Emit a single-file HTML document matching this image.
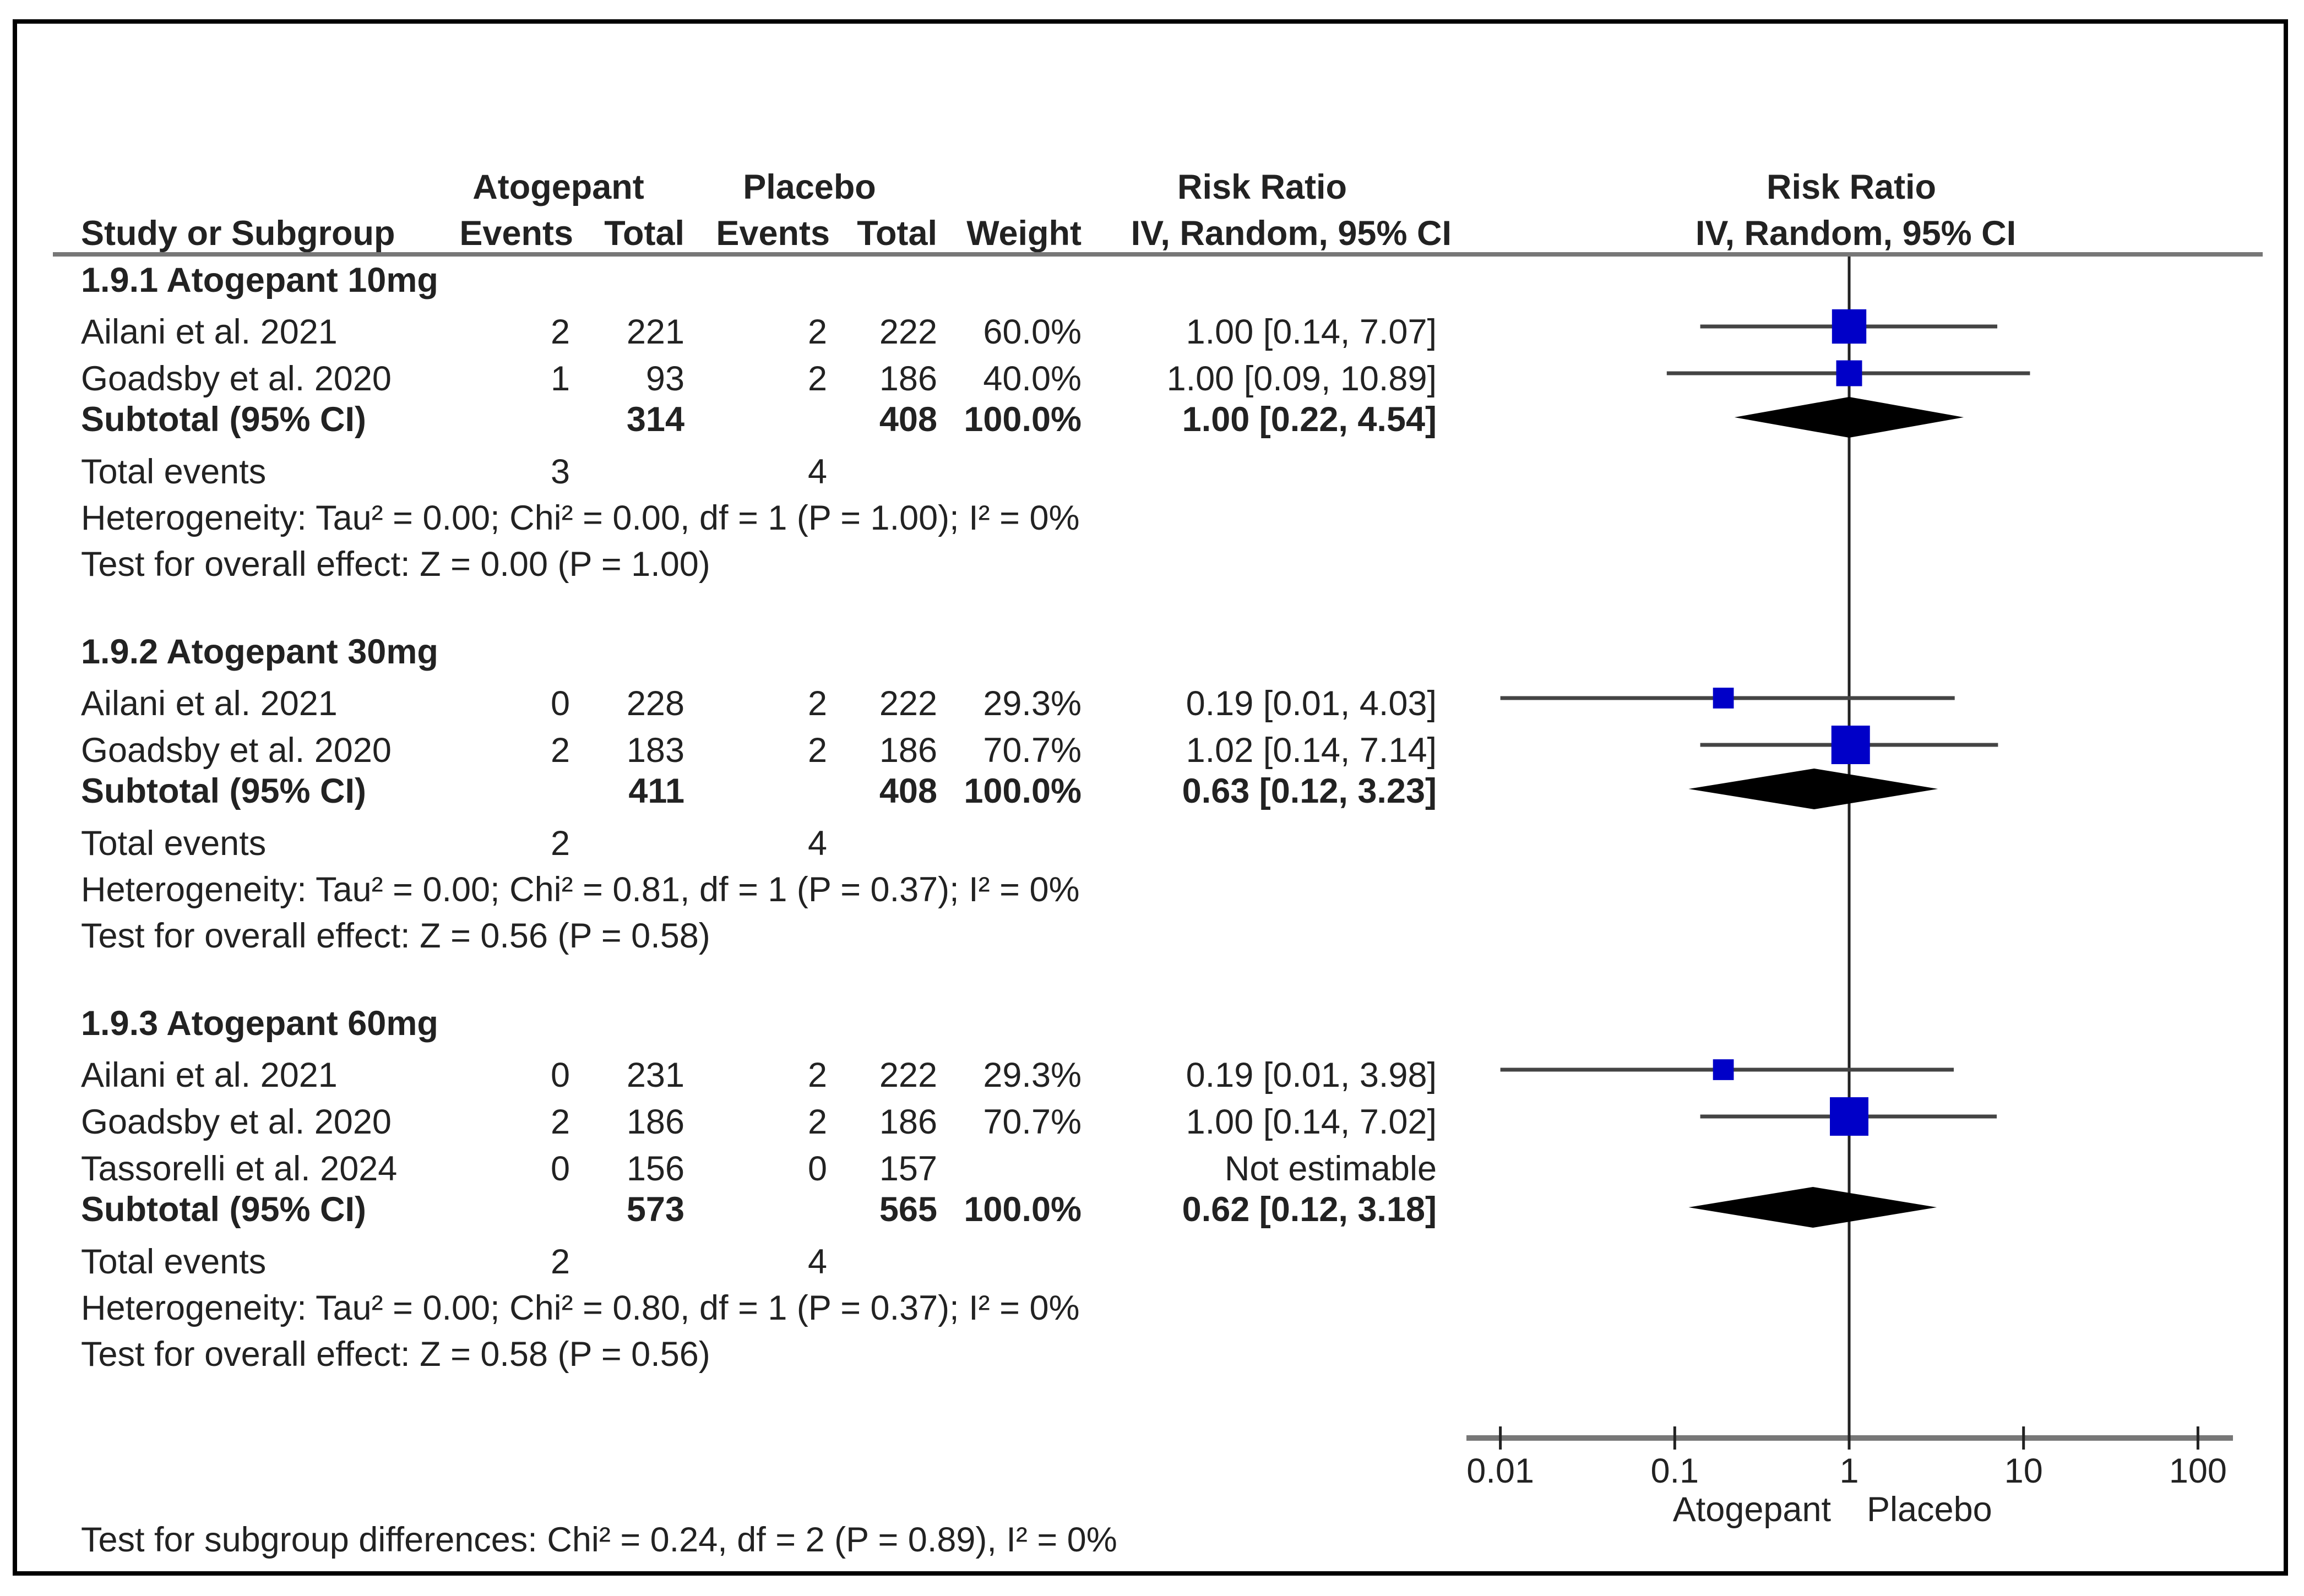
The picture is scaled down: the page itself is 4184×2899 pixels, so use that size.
<!DOCTYPE html>
<html><head><meta charset="utf-8"><style>
html,body{margin:0;padding:0;background:#fff;}
svg{display:block;}
text{font-family:"Liberation Sans",Arial,sans-serif;font-size:63px;fill:#222;}
.b{font-weight:bold;}
</style></head><body>
<svg id="c" width="4184" height="2899" viewBox="0 0 4184 2899" xmlns="http://www.w3.org/2000/svg">
<rect x="27" y="39" width="4124" height="2819" fill="none" stroke="#000" stroke-width="8"/>
<defs><clipPath id="clip"><rect x="0" y="0" width="4184" height="2832"/></clipPath></defs>
<g id="hdr">
<text class="b" x="1014" y="361" text-anchor="middle">Atogepant</text>
<text class="b" x="1470" y="361" text-anchor="middle">Placebo</text>
<text class="b" x="2292" y="361" text-anchor="middle">Risk Ratio</text>
<text class="b" x="3362" y="361" text-anchor="middle">Risk Ratio</text>
<text class="b" x="147" y="445">Study or Subgroup</text>
<text class="b" x="1041" y="445" text-anchor="end">Events</text>
<text class="b" x="1243" y="445" text-anchor="end">Total</text>
<text class="b" x="1507" y="445" text-anchor="end">Events</text>
<text class="b" x="1702" y="445" text-anchor="end">Total</text>
<text class="b" x="1964" y="445" text-anchor="end">Weight</text>
<text class="b" x="2636" y="445" text-anchor="end">IV, Random, 95% CI</text>
<text class="b" x="3370" y="445" text-anchor="middle">IV, Random, 95% CI</text>
</g>
<rect x="96" y="458" width="4013" height="8" fill="#777"/>
<g id="body"></g>
</svg>
<script>
const groupLabels = ["1.9.1 Atogepant 10mg","1.9.2 Atogepant 30mg","1.9.3 Atogepant 60mg"];
const studyNames = [["Ailani et al. 2021","Goadsby et al. 2020"],["Ailani et al. 2021","Goadsby et al. 2020"],["Ailani et al. 2021","Goadsby et al. 2020","Tassorelli et al. 2024"]];
const evA = [[2,1],[0,2],[0,2,0]];
const totA = [[221,93],[228,183],[231,186,156]];
const evP = [[2,2],[2,2],[2,2,0]];
const totP = [[222,186],[222,186],[222,186,157]];
const weights = [[60.0,40.0],[29.3,70.7],[29.3,70.7,null]];
const rr = [[1.00,1.00],[0.19,1.02],[0.19,1.00,null]];
const lo = [[0.14,0.09],[0.01,0.14],[0.01,0.14,null]];
const hi = [[7.07,10.89],[4.03,7.14],[3.98,7.02,null]];
const subRR = [1.00,0.63,0.62];
const subLo = [0.22,0.12,0.12];
const subHi = [4.54,3.23,3.18];
const subTotA = [314,411,573];
const subTotP = [408,408,565];
const totEvA = [3,2,2];
const totEvP = [4,4,4];
const hetText = ["Heterogeneity: Tau² = 0.00; Chi² = 0.00, df = 1 (P = 1.00); I² = 0%","Heterogeneity: Tau² = 0.00; Chi² = 0.81, df = 1 (P = 0.37); I² = 0%","Heterogeneity: Tau² = 0.00; Chi² = 0.80, df = 1 (P = 0.37); I² = 0%"];
const zText = ["Test for overall effect: Z = 0.00 (P = 1.00)","Test for overall effect: Z = 0.56 (P = 0.58)","Test for overall effect: Z = 0.58 (P = 0.56)"];
const tickVals = [0.01,0.1,1,10,100];
const tickLabels = ["0.01","0.1","1","10","100"];

const NS="http://www.w3.org/2000/svg";
const svg=document.getElementById('c');
const body=document.getElementById('body');
const X0=3358, DEC=316.7;
function xs(v){return X0+DEC*Math.log10(v);}
function fmt(v){return v.toFixed(2);}
function el(tag,attrs,parent){const e=document.createElementNS(NS,tag);for(const k in attrs)e.setAttribute(k,attrs[k]);(parent||body).appendChild(e);return e;}
function txt(s,x,y,anchor,bold,name){const t=el('text',{x:x,y:y,'text-anchor':anchor||'start'});if(bold)t.setAttribute('class','b');t.textContent=s;


return t;}

const refLine=el('line',{x1:X0,y1:466,x2:X0,y2:2612,stroke:'#222','stroke-width':5});



let base=530;
for(let g=0;g<groupLabels.length;g++){
  txt(groupLabels[g],147,base,'start',true,'subgroup-title');
  let y=base+94;
  for(let i=0;i<studyNames[g].length;i++){
    txt(studyNames[g][i],147,y,'start',false,'study-name');
    txt(String(evA[g][i]),1035,y,'end',false,'events-atogepant');
    txt(String(totA[g][i]),1243,y,'end',false,'total-atogepant');
    txt(String(evP[g][i]),1502,y,'end',false,'events-placebo');
    txt(String(totP[g][i]),1702,y,'end',false,'total-placebo');
    if(weights[g][i]!==null){
      txt(weights[g][i].toFixed(1)+'%',1964,y,'end',false,'study-weight');
      txt(fmt(rr[g][i])+' ['+fmt(lo[g][i])+', '+fmt(hi[g][i])+']',2609,y,'end',false,'study-ci');
      const cy=y-31;
      const ln=el('line',{x1:xs(lo[g][i]),y1:cy,x2:xs(hi[g][i]),y2:cy,stroke:'#444','stroke-width':7});
      
      
      const s=3.55*Math.pow(weights[g][i],0.7);
      const sq=el('rect',{x:xs(rr[g][i])-s/2,y:cy-s/2,width:s,height:s,fill:'#0000c8'});
      
      
    } else {
      txt('Not estimable',2609,y,'end',false,'study-ci');
    }
    y+=85;
  }
  y-=11;
  txt('Subtotal (95% CI)',147,y,'start',true,'subtotal-label');
  txt(String(subTotA[g]),1243,y,'end',true,'subtotal-atogepant');
  txt(String(subTotP[g]),1702,y,'end',true,'subtotal-placebo');
  txt('100.0%',1964,y,'end',true,'subtotal-weight');
  txt(fmt(subRR[g])+' ['+fmt(subLo[g])+', '+fmt(subHi[g])+']',2609,y,'end',true,'subtotal-ci');
  const dy=y-25;
  const d=el('polygon',{points:xs(subLo[g])+','+dy+' '+xs(subRR[g])+','+(dy-37)+' '+xs(subHi[g])+','+dy+' '+xs(subRR[g])+','+(dy+37),fill:'#000'});
  
  
  y+=95;
  txt('Total events',147,y,'start',false,'total-events-label');
  txt(String(totEvA[g]),1035,y,'end',false,'total-events-atogepant');
  txt(String(totEvP[g]),1502,y,'end',false,'total-events-placebo');
  y+=84;
  txt(hetText[g],147,y,'start',false,'heterogeneity-text');
  y+=84;
  txt(zText[g],147,y,'start',false,'overall-effect-text');
  base=y+159;
}

const ax=el('rect',{x:2663,y:2607,width:1392,height:10,fill:'#777'});


for(let i=0;i<tickVals.length;i++){
  const tx=xs(tickVals[i]);
  const tk=el('line',{x1:tx,y1:2591,x2:tx,y2:2633,stroke:'#222','stroke-width':5});
  
  
  txt(tickLabels[i],tx,2693,'middle',false,'x-tick-label');
}
txt('Atogepant',3325,2763,'end',false,'favours-atogepant-label');
txt('Placebo',3390,2763,'start',false,'favours-placebo-label');
const sg=txt('Test for subgroup differences: Chi² = 0.24, df = 2 (P = 0.89), I² = 0%',147,2818,'start',false,'subgroup-differences-text');
sg.setAttribute('clip-path','url(#clip)');
</script>
</body></html>
